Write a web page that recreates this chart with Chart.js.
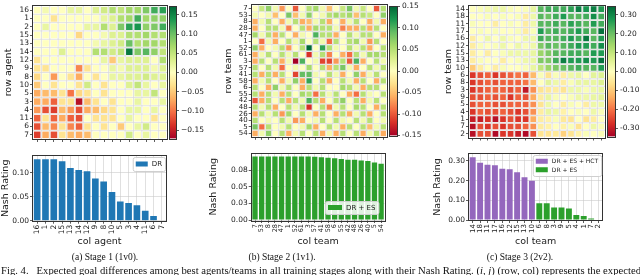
<!DOCTYPE html>
<html>
<head>
<meta charset="utf-8">
<script src="https://cdn.jsdelivr.net/npm/chart.js@4.4.1/dist/chart.umd.min.js"></script>
<style>
  body { margin: 0; background: #fff; width: 640px; height: 275px; overflow: hidden; position: relative; }
  .box { position: absolute; }
  .cap { position: absolute; top: 251px; line-height: 12px; font-family: "Liberation Serif", serif; font-size: 9.5px; color: #111; white-space: nowrap; transform: translateX(-50%); }
  #fig { position: absolute; left: 1px; top: 265px; line-height: 11px; font-family: "Liberation Serif", serif; font-size: 9.6px; color: #111; white-space: nowrap; transform-origin: 0 0; }
</style>
</head>
<body>
<div class="box" style="left:0;top:0"><canvas id="hm1" width="170" height="145"></canvas></div>
<div class="box" style="left:166px;top:0"><canvas id="cb1" width="50" height="145"></canvas></div>
<div class="box" style="left:205px;top:0"><canvas id="hm2" width="185" height="142"></canvas></div>
<div class="box" style="left:388px;top:0"><canvas id="cb2" width="50" height="142"></canvas></div>
<div class="box" style="left:430px;top:0"><canvas id="hm3" width="178" height="143"></canvas></div>
<div class="box" style="left:605px;top:0"><canvas id="cb3" width="35" height="143"></canvas></div>

<div class="box" style="left:0;top:150px"><canvas id="bar1" width="172" height="105"></canvas></div>
<div class="box" style="left:205px;top:148px"><canvas id="bar2" width="185" height="107"></canvas></div>
<div class="box" style="left:430px;top:148px"><canvas id="bar3" width="178" height="107"></canvas></div>

<div class="cap" style="left:105px">(a) Stage 1 (1v0).</div>
<div class="cap" style="left:282px">(b) Stage 2 (1v1).</div>
<div class="cap" style="left:520px">(c) Stage 3 (2v2).</div>
<div id="fig">Fig. 4.&nbsp;&nbsp;&nbsp;Expected goal differences among best agents/teams in all training stages along with their Nash Rating. (<i>i</i>, <i>j</i>) (row, col) represents the expected</div>

<script>
// ---- stage 1 (1v0) ----
const stage1Agents = ['16', '1', '2', '15', '13', '14', '12', '9', '8', '10', '5', '3', '4', '11', '6', '7'];
// expected goal difference x100, row agent (top to bottom) vs col agent (left to right)
const stage1Diff = [
  [0, 1, 0, 0, 2, 2, 0, 3, 4, 6, 5, 7, 7, 9, 12, 13],
  [0, 0, -3, 0, 0, 0, 0, 0, 2, 3, 6, 7, 12, 7, 8, 8],
  [0, 2, 0, 0, 0, 0, 2, 2, 6, 3, 9, 13, 14, 8, 9, 12],
  [0, 0, 0, 0, 0, -4, 0, 0, 1, 3, 3, 6, 6, 7, 6, 6],
  [0, 0, 0, 0, 0, 0, 0, 1, 2, 3, 4, 10, 6, 7, 7, 6],
  [0, 0, 0, 3, 0, 0, 0, 6, 6, 4, 5, 16, 9, 11, 8, 5],
  [-3, 0, 0, 0, 0, 0, 0, 0, 2, -5, 2, 3, 3, 3, 0, 6],
  [-3, -3, 0, 0, 0, -9, -3, 0, 0, 2, 1, 3, 3, 3, 1, 3],
  [-4, 0, -8, 0, -3, -7, 0, -3, 0, 2, 2, 3, 3, 4, 3, 3],
  [-5, 0, -3, 0, 0, -3, 4, 0, -3, 0, 0, 3, 5, 2, 0, 2],
  [-7, -6, -6, -3, -10, -4, -3, 0, -3, 0, 0, 0, 2, 2, 5, 0],
  [-7, -7, -11, -3, -3, -16, -6, -3, 0, -3, 0, 0, 2, 0, 0, 2],
  [-8, -12, -13, -6, -8, -12, -7, -6, -4, -3, 0, 2, 2, 0, 2, 0],
  [-11, -3, -11, -7, -11, -12, 0, -3, -3, -3, 0, 2, 0, 0, -3, 0],
  [-12, -6, -9, -3, -9, -11, -3, 0, -3, 0, -5, 0, 2, 4, 0, 0],
  [-13, -7, -12, -3, -6, -7, -6, 0, 0, 0, 0, 4, 0, 2, 0, 0]
];
const stage1Nash = [0.128, 0.128, 0.128, 0.124, 0.110, 0.106, 0.103, 0.088, 0.082, 0.060, 0.040, 0.037, 0.032, 0.021, 0.010, 0.0];
const stage1Range = 0.172;
const cb1Ticks = [-0.15, -0.10, -0.05, 0, 0.05, 0.10, 0.15];
const cb1Labels = ['\u22120.15', '\u22120.10', '\u22120.05', '0.00', '0.05', '0.10', '0.15'];
const nash1Max = 0.135;
const nash1Ticks = [0, 0.05, 0.10];
const nash1Labels = ['0.00', '0.05', '0.10'];

// ---- stage 2 (1v1) ----
const stage2Teams = ['7', '53', '8', '28', '47', '1', '52', '61', '3', '57', '41', '58', '6', '55', '42', '48', '26', '40', '5', '54'];
const stage2Diff = [
  [0, 4, 7, 1, -7, 0, -10, 0, 5, 6, 1, -5, 0, 4, 8, 1, 4, 0, -10, 5],
  [1, 0, 1, -5, 0, 8, -5, 1, 7, 0, 1, 5, 6, 5, 6, -5, 5, 4, 0, 7],
  [-6, 1, 5, 0, -6, 1, 5, -6, -5, 1, 5, -6, 0, -6, 1, 5, 0, -6, 1, -6],
  [-6, 0, 5, 5, 1, -8, 0, 5, -6, 6, 5, 5, 1, -8, -6, -6, 5, -6, 5, 0],
  [6, 1, 5, -6, 5, 0, -6, 1, 0, 10, 5, 5, -6, 0, 5, 1, 5, 5, 0, -6],
  [0, -9, 1, -6, 0, 5, 1, 6, 0, 5, 1, -9, 5, 0, 5, 6, 1, -7, 5, 0],
  [7, -6, 0, 1, 5, -7, 0, 5, 15, 0, 11, 5, 1, 0, 5, 1, 5, -6, 0, 5],
  [-6, 1, 5, 0, 5, 1, 5, 0, -12, 1, 5, -8, 0, -6, -9, 5, 1, 6, 6, 5],
  [-6, 5, 0, 5, -6, 1, -15, 10, 0, 1, -11, -11, -7, 5, -10, 10, -6, 0, 5, 1],
  [5, 0, 5, 1, -9, 0, 1, 0, 6, 0, 5, -6, 5, 8, 1, -6, 0, 5, 1, 5],
  [5, -6, 5, -6, 5, 0, -11, 9, 9, 1, 0, 5, 1, -6, 0, 7, -6, 1, 5, 0],
  [-6, 1, 5, 0, -6, 1, 7, -6, 11, 0, 5, -6, 0, 5, 1, -6, 5, 0, -6, 5],
  [5, 0, -6, 7, 1, 5, 0, -6, 5, 1, 5, 0, 0, 6, 5, 1, -6, 5, 5, 0],
  [5, -6, 5, 1, -6, 5, 0, 6, 5, -9, 5, 1, 5, 0, -6, -9, 5, 1, 0, 5],
  [-10, -6, 5, 0, 5, -6, 5, 1, 10, 5, -6, 0, 5, 7, 0, 5, -6, 1, 5, 0],
  [5, 1, 5, -6, 0, 5, 1, 5, -12, 0, 5, -8, 1, 5, 0, 6, 5, 0, -6, 5],
  [-6, 5, 1, 5, -7, 6, 0, 5, 1, -6, 5, 0, -6, 5, -6, 1, 5, -6, 0, 5],
  [5, 0, 1, 0, 5, 1, -7, -6, 0, 1, 5, 0, 5, 1, 0, 5, 1, 5, 0, 1],
  [8, -9, 5, 0, 1, 5, 0, 1, 6, -6, 0, 5, 1, -6, 5, 0, 5, -5, 1, 5],
  [-6, 1, 7, 0, 5, -6, 1, 5, 0, 5, -6, 1, -6, 5, 0, 5, -6, 1, 5, -6]
];
const stage2Nash = [0.096, 0.096, 0.096, 0.096, 0.096, 0.096, 0.096, 0.096, 0.096, 0.0955, 0.095, 0.094, 0.0935, 0.092, 0.091, 0.091, 0.090, 0.089, 0.087, 0.085];
const stage2Range = 0.15;
const cb2Ticks = [-0.15, -0.10, -0.05, 0, 0.05, 0.10, 0.15];
const cb2Labels = ['-0.15', '-0.10', '-0.05', '0.00', '0.05', '0.10', '0.15'];
const nash2Max = 0.1005;
const nash2Ticks = [0, 0.025, 0.05, 0.075];
const nash2Labels = ['0.00', '0.03', '0.05', '0.08'];

// ---- stage 3 (2v2) ----
const stage3Teams = ['14', '18', '11', '17', '16', '12', '15', '13', '10', '6', '8', '3', '9', '5', '4', '1', '7', '2'];
const stage3Diff = [
  [0, 1, 2, 3, 3, 1, 0, 1, 4, 22, 24, 24, 24, 26, 31, 28, 31, 27],
  [0, 0, 1, 0, 1, 0, 1, -4, 3, 22, 20, 24, 27, 22, 22, 24, 29, 24],
  [1, 0, 0, -4, 0, 1, 0, -4, 3, 22, 22, 24, 22, 26, 24, 22, 27, 24],
  [0, 1, 0, 1, 0, 0, 1, -4, 1, 27, 22, 24, 22, 24, 27, 24, 22, 33],
  [-4, 0, 3, 0, 3, 1, 0, 3, 3, 24, 22, 22, 24, 27, 24, 32, 22, 27],
  [-4, 1, 0, 1, 3, 0, 3, 1, 3, 18, 22, 20, 22, 24, 27, 27, 24, 29],
  [-4, 0, -4, 0, 1, 3, 3, 3, 4, 15, 18, 22, 22, 24, 24, 22, 27, 27],
  [-4, 1, 0, 0, -4, 0, 1, 3, 4, 18, 18, 24, 31, 27, 27, 29, 27, 33],
  [-10, -4, 0, -4, 1, 0, 0, 1, 4, 10, 15, 18, 20, 22, 24, 22, 22, 27],
  [-27, -24, -22, -27, -24, -22, -20, -22, -12, 1, -6, 1, -4, 3, 4, 0, 5, 6],
  [-27, -24, -22, -24, -22, -22, -22, -20, -12, 0, 5, 3, -4, 1, 4, 4, 4, 6],
  [-27, -24, -22, -22, -22, -24, -22, -31, -17, -6, -5, -4, -6, 3, 3, 1, 3, 4],
  [-24, -24, -22, -24, -22, -27, -22, -24, -14, -4, 4, 1, 0, 1, 3, 3, 4, 5],
  [-24, -22, -22, -24, -24, -22, -22, -22, -17, -6, 3, 0, -4, 1, 0, -4, 3, 3],
  [-27, -22, -24, -24, -22, -24, -27, -24, -17, -4, 4, 3, -3, 0, 1, 0, 3, 1],
  [-30, -30, -27, -32, -27, -24, -27, -27, -14, -4, -3, 1, -5, -6, 0, -6, -4, 0],
  [-32, -24, -27, -24, -27, -24, -24, -22, -17, -4, -3, 0, -3, 1, -6, 0, 3, 1],
  [-32, -24, -24, -33, -27, -27, -30, -33, -24, -6, -6, -5, -9, -6, -3, 1, 0, 1]
];
const stage3NashHct = [0.318, 0.291, 0.281, 0.278, 0.260, 0.257, 0.242, 0.217, 0.199, null, null, null, null, null, null, null, null, null];
const stage3NashEs = [null, null, null, null, null, null, null, null, null, 0.085, 0.085, 0.064, 0.064, 0.059, 0.025, 0.020, 0.007, 0.0];
const stage3Range = 0.345;
const cb3Ticks = [-0.30, -0.20, -0.10, 0, 0.10, 0.20, 0.30];
const cb3Labels = ['-0.30', '-0.20', '-0.10', '0.00', '0.10', '0.20', '0.30'];
const nash3Max = 0.335;
const nash3Ticks = [0, 0.10, 0.20, 0.30];
const nash3Labels = ['0.00', '0.10', '0.20', '0.30'];

// RdYlGn colour map
const RDYLGN = ['#a50026', '#d73027', '#f46d43', '#fdae61', '#fee08b', '#ffffbf', '#d9ef8b', '#a6d96a', '#66bd63', '#1a9850', '#006837'];
function hexRgb(h) { return [1, 3, 5].map(i => parseInt(h.substr(i, 2), 16)); }
function rdylgn(t) {
  t = Math.max(0, Math.min(1, t));
  const p = t * 10, i = Math.min(9, Math.floor(p)), f = p - i;
  const a = hexRgb(RDYLGN[i]), b = hexRgb(RDYLGN[i + 1]);
  return 'rgb(' + a.map((v, k) => Math.round(v + (b[k] - v) * f)).join(',') + ')';
}

Chart.defaults.font.family = '"DejaVu Sans", sans-serif';
Chart.defaults.color = '#222';
Chart.defaults.layout.autoPadding = false;

// frame round the plot area; for heatmaps also the light cell separators
const frame = {
  id: 'frame',
  beforeDatasetsDraw(chart, args, opts) {
    if (!opts.cells) return;
    const a = chart.chartArea, ctx = chart.ctx, n = opts.cells;
    ctx.save();
    ctx.strokeStyle = '#dadada';
    ctx.lineWidth = 0.8;
    ctx.beginPath();
    for (let k = 1; k < n; k++) {
      const x = a.left + a.width * k / n, y = a.top + a.height * k / n;
      ctx.moveTo(x, a.top); ctx.lineTo(x, a.bottom);
      ctx.moveTo(a.left, y); ctx.lineTo(a.right, y);
    }
    ctx.stroke();
    ctx.restore();
  },
  afterDraw(chart) {
    const a = chart.chartArea, ctx = chart.ctx;
    ctx.save();
    ctx.strokeStyle = '#333';
    ctx.lineWidth = 1;
    ctx.strokeRect(Math.round(a.left) - 0.5, Math.round(a.top) - 0.5, Math.round(a.width) + 1, Math.round(a.height) + 1);
    ctx.restore();
  }
};

const innerLegend = {
  id: 'innerLegend',
  afterDraw(chart, args, opts) {
    if (!opts.corner) return;
    const ctx = chart.ctx, a = chart.chartArea;
    const sets = chart.data.datasets;
    ctx.save();
    ctx.font = opts.size + 'px "DejaVu Sans"';
    const sw = opts.sw, pad = 3, rowH = opts.rowH;
    const tw = Math.max(...sets.map(d => ctx.measureText(d.label).width));
    const w = pad + sw + 4 + tw + pad, h = pad * 2 + rowH * sets.length - 2;
    const x = a.right - opts.m - w;
    const y = opts.corner === 'tr' ? a.top + opts.m : a.bottom - opts.m - h;
    ctx.beginPath();
    ctx.roundRect(x + 0.5, y + 0.5, w, h, 2);
    ctx.fillStyle = 'rgba(255,255,255,0.85)';
    ctx.fill();
    ctx.strokeStyle = '#cfcfcf';
    ctx.lineWidth = 1;
    ctx.stroke();
    sets.forEach((d, i) => {
      const cy = y + pad + rowH * i + (rowH - 2) / 2;
      ctx.fillStyle = d.backgroundColor;
      ctx.fillRect(x + pad, cy - 2.5, sw, 5);
      ctx.fillStyle = '#222';
      ctx.textBaseline = 'middle';
      ctx.fillText(d.label, x + pad + sw + 4, cy + 0.5);
    });
    ctx.restore();
  }
};

Chart.register(frame, innerLegend);

function fixedTicks(values) {
  return s => { s.ticks = values.map(v => ({ value: v })); };
}

function heatmap(id, labels, diff, vmax, o) {
  const n = labels.length;
  const pts = [];
  diff.forEach((row, i) => row.forEach((v, j) => pts.push({ x: j, y: i, v: v / 100 })));
  const idx = labels.map((_, k) => k);
  const tickGrid = { drawOnChartArea: false, tickLength: 3, tickColor: '#333', tickWidth: 0.8 };
  return new Chart(document.getElementById(id), {
    type: 'scatter',
    data: {
      datasets: [{
        data: pts,
        pointStyle: 'rect',
        backgroundColor: c => c.raw ? rdylgn((c.raw.v + vmax) / (2 * vmax)) : '#fff',
        borderWidth: 0,
        pointRadius: c => {
          const a = c.chart.chartArea;
          const s = a ? Math.min(a.width, a.height) / n : 8;
          return (s - o.gap) / Math.SQRT2;
        }
      }]
    },
    options: {
      responsive: false, animation: false, events: [],
      layout: { padding: o.pad },
      plugins: { legend: { display: false }, tooltip: { enabled: false }, frame: { cells: n } },
      scales: {
        x: {
          type: 'linear', min: -0.5, max: n - 0.5,
          afterBuildTicks: fixedTicks(idx),
          afterFit: s => { s.height = o.xh; },
          ticks: { display: false, autoSkip: false },
          grid: tickGrid, border: { display: false }
        },
        y: {
          type: 'linear', reverse: true, min: -0.5, max: n - 0.5,
          afterBuildTicks: fixedTicks(idx),
          afterFit: s => { s.width = o.yw; },
          ticks: { autoSkip: false, callback: (v, k) => labels[k], font: { size: o.fs }, color: '#222', padding: 1 },
          grid: tickGrid, border: { display: false },
          title: { display: true, text: o.title, font: { size: 9.5 }, color: '#222', padding: { top: o.tp, bottom: 0 } }
        }
      }
    }
  });
}

function colorbar(id, vmax, tickVals, tickLabels, o) {
  return new Chart(document.getElementById(id), {
    type: 'bar',
    data: {
      labels: [''],
      datasets: [{
        data: [[-vmax, vmax]],
        barPercentage: 1, categoryPercentage: 1,
        backgroundColor: c => {
          const a = c.chart.chartArea;
          if (!a) return '#ffffbf';
          const g = c.chart.ctx.createLinearGradient(0, a.bottom, 0, a.top);
          RDYLGN.forEach((col, k) => g.addColorStop(k / 10, col));
          return g;
        }
      }]
    },
    options: {
      responsive: false, animation: false, events: [],
      layout: { padding: o.pad },
      plugins: { legend: { display: false }, tooltip: { enabled: false } },
      scales: {
        x: { display: false },
        y: {
          position: 'right', min: -vmax, max: vmax,
          afterBuildTicks: fixedTicks(tickVals),
          afterFit: s => { s.width = o.yw; },
          ticks: { callback: (v, k) => tickLabels[k], font: { size: 7.5 }, color: '#222', padding: 2 },
          grid: { drawOnChartArea: false, tickLength: 3, tickColor: '#333', tickWidth: 0.8 },
          border: { display: false }
        }
      }
    }
  });
}

function nashBars(id, teams, sets, yMax, tickVals, tickLabels, o) {
  const gridCol = 'rgba(200,200,200,0.7)';
  return new Chart(document.getElementById(id), {
    type: 'bar',
    data: {
      labels: teams,
      datasets: sets.map(s => ({
        label: s.label, data: s.data, backgroundColor: s.color,
        barPercentage: 0.8, categoryPercentage: 1, skipNull: true
      }))
    },
    options: {
      responsive: false, animation: false, events: [],
      layout: { padding: o.pad },
      plugins: { legend: { display: false }, tooltip: { enabled: false }, innerLegend: o.legend },
      scales: {
        x: {
          stacked: true, z: 1,
          afterFit: s => { s.height = o.xh; },
          grid: { offset: false, color: gridCol, lineWidth: 0.8, tickColor: '#333', tickLength: 3, tickWidth: 0.8 },
          ticks: { autoSkip: false, maxRotation: 90, minRotation: 90, font: { size: o.fs }, color: '#222', padding: 1 },
          border: { display: false },
          title: { display: true, text: o.xTitle, font: { size: 9.5 }, color: '#222', padding: { top: 0, bottom: o.xtp } }
        },
        y: {
          stacked: true, z: 1, min: 0, max: yMax,
          afterBuildTicks: fixedTicks(tickVals),
          afterFit: s => { s.width = o.yw; },
          ticks: { callback: (v, k) => tickLabels[k], font: { size: 7.5 }, color: '#222', padding: 1 },
          grid: { color: gridCol, lineWidth: 0.8, tickColor: '#333', tickLength: 3, tickWidth: 0.8 },
          border: { display: false },
          title: { display: true, text: 'Nash Rating', font: { size: 9.5 }, color: '#222', padding: { top: o.ytp, bottom: 0 } }
        }
      }
    }
  });
}

const BLUE = '#1f77b4', GREEN = '#2ca02c', PURPLE = '#9467bd';

heatmap('hm1', stage1Agents, stage1Diff, stage1Range,
  { pad: { top: 6, right: 3, left: 0, bottom: 0 }, yw: 33, xh: 6, fs: 7.5, title: 'row agent', tp: 3, gap: 1.8 });
colorbar('cb1', stage1Range, cb1Ticks, cb1Labels, { pad: { top: 6, bottom: 6, left: 4, right: 0 }, yw: 40 });

heatmap('hm2', stage2Teams, stage2Diff, stage2Range,
  { pad: { top: 2, right: 3.3, left: 0, bottom: 0 }, yw: 46.7, xh: 5, fs: 7, title: 'row team', tp: 18, gap: 1.3 });
colorbar('cb2', stage2Range, cb2Ticks, cb2Labels, { pad: { top: 3, bottom: 6, left: 2, right: 0 }, yw: 41 });

heatmap('hm3', stage3Teams, stage3Diff, stage3Range,
  { pad: { top: 3, right: 3, left: 0, bottom: 0 }, yw: 39, xh: 5, fs: 7.5, title: 'row team', tp: 12.8, gap: 1.6 });
colorbar('cb3', stage3Range, cb3Ticks, cb3Labels, { pad: { top: 3, bottom: 5, left: 2.7, right: 0 }, yw: 25 });

nashBars('bar1', stage1Agents, [{ label: 'DR', data: stage1Nash, color: BLUE }], nash1Max, nash1Ticks, nash1Labels,
  { pad: { top: 6, right: 5, left: 0, bottom: 0 }, yw: 33, xh: 34.3, fs: 7.5, xTitle: 'col agent', xtp: 7.6, ytp: 0,
    legend: { corner: 'tr', m: 1, size: 7, sw: 12, rowH: 10 } });

nashBars('bar2', stage2Teams, [{ label: 'DR + ES', data: stage2Nash, color: GREEN }], nash2Max, nash2Ticks, nash2Labels,
  { pad: { top: 5, right: 3.3, left: 0, bottom: 0 }, yw: 46.7, xh: 35, fs: 6.5, xTitle: 'col team', xtp: 7.6, ytp: 3.3,
    legend: { corner: 'br', m: 6, size: 7, sw: 14, rowH: 9 } });

nashBars('bar3', stage3Teams, [
  { label: 'DR + ES + HCT', data: stage3NashHct, color: PURPLE },
  { label: 'DR + ES', data: stage3NashEs, color: GREEN }
], nash3Max, nash3Ticks, nash3Labels,
  { pad: { top: 6, right: 3, left: 0, bottom: 0 }, yw: 39, xh: 35, fs: 7, xTitle: 'col team', xtp: 7.6, ytp: 2.3,
    legend: { corner: 'tr', m: 1, size: 6, sw: 12, rowH: 8.5 } });

// stretch the figure caption over the page width
const fig = document.getElementById('fig');
fig.style.transform = 'scaleX(' + (640 / fig.getBoundingClientRect().width) + ')';
</script>
</body>
</html>
